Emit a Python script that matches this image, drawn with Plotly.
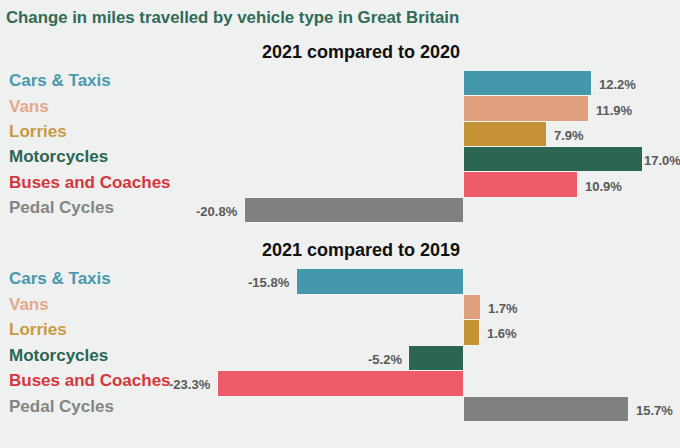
import plotly.graph_objects as go

categories = ["Cars & Taxis", "Vans", "Lorries", "Motorcycles", "Buses and Coaches", "Pedal Cycles"]
change_2020 = [12.2, 11.9, 7.9, 17.0, 10.9, -20.8]
change_2019 = [-15.8, 1.7, 1.6, -5.2, -23.3, 15.7]

bar_colors = ["#4598ab", "#e0a07e", "#c69236", "#2a6652", "#ee5c69", "#808080"]
label_colors = ["#4a9aae", "#e4a98a", "#c99a3f", "#2a6652", "#d4373c", "#858585"]

BG = "#eff0f0"
FONT = "Liberation Sans"

fig = go.Figure()

panels = [
    ("x", "y", change_2020),
    ("x2", "y2", change_2019),
]

for xa, ya, vals in panels:
    fig.add_trace(go.Bar(
        x=vals, y=categories, orientation="h",
        xaxis=xa, yaxis=ya,
        marker=dict(color=bar_colors, line=dict(color="#f4f4f4", width=1)),
        hoverinfo="skip", showlegend=False,
    ))
    # value labels next to the bar ends
    for cat, v in zip(categories, vals):
        if v > 0:
            shift = 5 if v < 16 else -1  # the longest bar has no room left
        else:
            shift = -5
        fig.add_annotation(
            x=v, y=cat, xref=xa, yref=ya,
            text=f"<b>{v:.1f}%</b>", showarrow=False,
            xanchor="left" if v > 0 else "right",
            xshift=shift, yshift=-1,
            font=dict(family=FONT, size=13, color="#5a5a5a"),
        )
    # coloured category names on the left
    for cat, col in zip(categories, label_colors):
        fig.add_annotation(
            x=0.011, y=cat, xref="paper", yref=ya,
            text=f"<b>{cat}</b>", showarrow=False,
            xanchor="left", yshift=3,
            font=dict(family=FONT, size=17, color=col),
        )

# panel subtitles
fig.add_annotation(x=0, y=1 - 52 / 448, xref="x", yref="paper", text="<b>2021 compared to 2020</b>",
                   showarrow=False, xanchor="right", yanchor="middle", xshift=-2,
                   font=dict(family=FONT, size=18, color="#111111"))
fig.add_annotation(x=0, y=1 - 250 / 448, xref="x2", yref="paper", text="<b>2021 compared to 2019</b>",
                   showarrow=False, xanchor="right", yanchor="middle", xshift=-2,
                   font=dict(family=FONT, size=18, color="#111111"))

# title
fig.add_annotation(x=0.006, y=1 - 18 / 448, xref="paper", yref="paper",
                   text="<b>Change in miles travelled by vehicle type in Great Britain</b>",
                   showarrow=False, xanchor="left", yanchor="middle",
                   font=dict(family=FONT, size=16.8, color="#2f6b57"))

xr = [-44.02, 20.56]
axis_x = dict(range=xr, showticklabels=False, showgrid=False, zeroline=True,
              zerolinecolor="#f7f7f7", zerolinewidth=1, fixedrange=True)
axis_y = dict(autorange="reversed", showticklabels=False, showgrid=False, fixedrange=True)

fig.update_layout(
    width=680, height=448,
    margin=dict(l=0, r=0, t=0, b=0),
    paper_bgcolor=BG, plot_bgcolor=BG,
    bargap=0,
    xaxis=dict(axis_x, domain=[0, 1], anchor="y"),
    yaxis=dict(axis_y, domain=[1 - 225 / 448, 1 - 71 / 448], anchor="x"),
    xaxis2=dict(axis_x, domain=[0, 1], anchor="y2"),
    yaxis2=dict(axis_y, domain=[1 - 424 / 448, 1 - 269 / 448], anchor="x2"),
)

fig.write_html("out.html", config={"displayModeBar": False},
               post_script="document.body.style.margin='0';document.body.style.overflow='hidden';")
